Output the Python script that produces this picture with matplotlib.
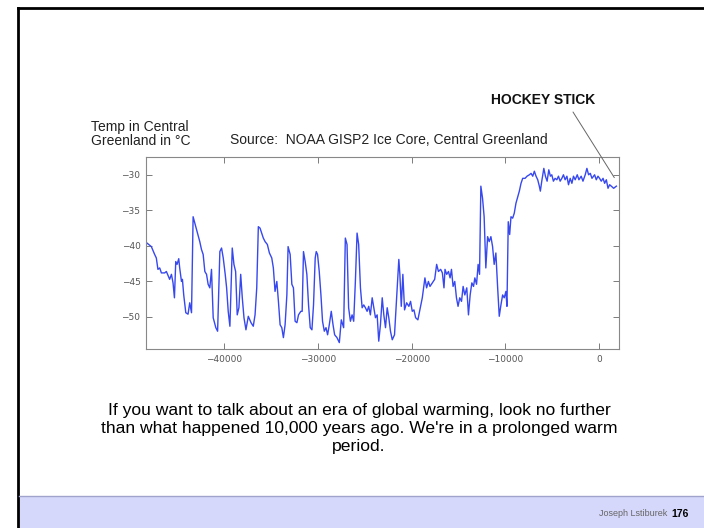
import matplotlib
matplotlib.use('Agg')
import matplotlib.pyplot as plt
from matplotlib.lines import Line2D
from matplotlib.patches import Rectangle

# GISP2 temperature record, central Greenland (year, deg C)
years = [
    -48200, -47730, -47380, -47200, -47030, -46840, -46660, -46310, -46130, -45780,
    -45590, -45420, -45270, -45130, -44990, -44810, -44710, -44520, -44420, -44280,
    -44060, -43820, -43640, -43450, -43280, -43100, -42860, -42570, -42390, -42210,
    -42030, -41850, -41680, -41500, -41320, -41140, -40860, -40670, -40430, -40250,
    -40070, -39860, -39710, -39540, -39360, -39110, -38930, -38750, -38580, -38400,
    -38210, -38040, -37860, -37650, -37400, -37110, -36870, -36680, -36500, -36330,
    -36150, -35800, -35610, -35370, -35150, -34900, -34730, -34550, -34360, -34190,
    -34010, -33830, -33660, -33480, -33290, -33160, -32940, -32760, -32590, -32410,
    -32220, -32050, -31800, -31660, -31520, -31340, -31160, -30980, -30800, -30620,
    -30450, -30270, -30160, -30020, -29840, -29660, -29490, -29300, -29120, -28950,
    -28770, -28560, -28370, -28200, -27950, -27700, -27490, -27240, -27060, -26880,
    -26710, -26520, -26340, -26170, -25990, -25810, -25640, -25450, -25270, -25100,
    -24920, -24740, -24570, -24390, -24200, -24030, -23850, -23670, -23500, -23320,
    -23130, -22960, -22780, -22600, -22430, -22250, -22060, -21820, -21600, -21360,
    -21250, -21100, -20930, -20750, -20530, -20290, -20110, -19930, -19750, -19570,
    -19330, -19040, -18860, -18580, -18400, -18210, -18040, -17790, -17540, -17330,
    -17140, -16900, -16720, -16550, -16440, -16260, -16070, -15900, -15750, -15580,
    -15400, -15220, -15050, -14870, -14680, -14510, -14330, -14120, -13940, -13760,
    -13580, -13400, -13260, -13080, -12910, -12760, -12620, -12440, -12270, -12090,
    -11900, -11730, -11550, -11370, -11200, -11020, -10830, -10660, -10480, -10300,
    -10130, -9950, -9840, -9700, -9550, -9410, -9230, -9060, -8880, -8520,
    -8340, -8160, -7910, -7700, -7450, -7270, -7090, -6920, -6740, -6560,
    -6390, -6280, -6130, -5910, -5740, -5560, -5380, -5210, -5060, -4890,
    -4710, -4520, -4350, -4170, -3990, -3820, -3640, -3450, -3280, -3100,
    -2920, -2750, -2570, -2350, -2170, -1930, -1740, -1500, -1320, -1140,
    -960, -780, -500, -320, -140, 30, 210, 400, 570, 750,
    930, 1100, 1280, 1530, 1820,
]
temps = [
    -39.6, -40.1, -41.2, -41.7, -43.3, -43.1, -43.8, -43.8, -43.6, -44.7,
    -44.0, -45.2, -47.3, -42.2, -42.6, -41.8, -43.1, -45.0, -44.7, -46.9,
    -49.4, -49.6, -48.0, -49.4, -35.9, -36.8, -38.0, -39.4, -40.5, -41.2,
    -43.6, -44.0, -45.4, -45.9, -43.3, -50.1, -51.5, -52.0, -40.8, -40.3,
    -41.7, -44.0, -45.9, -49.2, -51.3, -40.3, -42.6, -43.6, -49.7, -48.7,
    -44.0, -47.3, -50.1, -51.8, -49.9, -50.8, -51.3, -49.7, -45.9, -37.3,
    -37.5, -38.9, -39.4, -39.8, -41.0, -41.7, -43.1, -46.4, -45.0, -47.8,
    -51.1, -51.5, -52.9, -51.1, -46.9, -40.1, -41.2, -45.4, -45.9, -50.6,
    -50.8, -49.7, -49.2, -49.2, -40.8, -42.2, -44.0, -48.3, -51.5, -51.8,
    -48.3, -41.7, -40.8, -41.2, -43.6, -46.9, -50.6, -52.0, -51.5, -52.5,
    -51.1, -49.2, -51.1, -52.5, -52.9, -53.6, -50.4, -51.5, -38.9, -39.8,
    -48.7, -50.6, -49.7, -50.6, -45.0, -38.2, -39.8, -45.9, -48.7, -48.3,
    -48.7, -49.2, -48.5, -49.7, -47.3, -48.7, -50.1, -49.7, -53.4, -51.1,
    -47.3, -49.7, -51.5, -48.7, -50.1, -52.0, -53.2, -52.5, -47.3, -41.9,
    -44.0, -48.5, -44.0, -49.0, -48.0, -48.5, -47.8, -49.2, -49.0, -50.1,
    -50.4, -48.5, -47.3, -44.5, -45.9, -45.0, -45.7, -45.2, -44.7, -42.6,
    -43.6, -43.3, -43.8, -45.9, -43.3, -44.0, -43.6, -44.5, -43.3, -45.7,
    -45.0, -47.3, -48.5, -47.3, -47.8, -45.7, -46.9, -45.9, -49.7, -46.9,
    -45.2, -45.7, -44.5, -45.4, -42.6, -44.0, -31.6, -33.3, -35.9, -43.1,
    -38.7, -39.4, -38.7, -40.1, -42.6, -41.0, -45.9, -49.9, -48.3, -46.9,
    -47.3, -46.4, -48.5, -36.6, -38.4, -35.9, -36.1, -35.4, -34.0, -32.3,
    -31.2, -30.5, -30.5, -30.2, -30.0, -29.8, -30.2, -29.5, -30.2, -30.7,
    -31.6, -32.3, -30.9, -29.1, -30.2, -30.9, -29.3, -30.2, -30.0, -30.9,
    -30.5, -30.7, -30.2, -30.9, -30.5, -30.0, -30.7, -30.2, -31.4, -30.5,
    -31.2, -30.2, -30.7, -30.0, -30.7, -30.2, -30.9, -30.0, -29.1, -30.0,
    -29.8, -30.5, -30.0, -30.7, -30.2, -30.5, -30.9, -30.5, -31.2, -30.7,
    -31.9, -31.4, -31.6, -31.9, -31.6,
]
xticks = [-40000, -30000, -20000, -10000, 0]
yticks = [-50, -45, -40, -35, -30]

caption = ("If you want to talk about an era of global warming, look no further\n"
           "than what happened 10,000 years ago. We're in a prolonged warm\n"
           "period.")

W, H = 704, 528
fig = plt.figure(figsize=(W / 100, H / 100), dpi=100, facecolor='white')
font = ['Liberation Sans', 'DejaVu Sans']

def px(x, y):
    # pixel position (from top-left) to figure fraction
    return x / W, 1 - y / H

# slide frame and footer band
fig.add_artist(Line2D([17.5 / W, 1], [1 - 8 / H, 1 - 8 / H], color='black', lw=2.0))
fig.add_artist(Line2D([17.5 / W, 17.5 / W], [0, 1 - 8 / H], color='black', lw=2.0))
fig.add_artist(Rectangle((18.5 / W, 0), 1, 32 / H, facecolor='#d6d8fb',
                         edgecolor='none', transform=fig.transFigure))
fig.add_artist(Line2D([18.5 / W, 1], [32 / H, 32 / H], color='#a0a4cc', lw=1.0))

# the plot itself
ax = fig.add_axes([146 / W, 1 - 349 / H, (619 - 146) / W, (349 - 157) / H])
ax.plot(years, temps, color='#3748ee', lw=1.0)
ax.set_xlim(-48300, 2100)
ax.set_ylim(-54.5, -27.5)
ax.set_xticks(xticks)
ax.set_yticks(yticks)
ax.tick_params(direction='in', top=True, right=True, length=4, width=0.6,
               color='#666666', labelsize=6.5, labelcolor='#555555', pad=4)
for s in ax.spines.values():
    s.set_color('#888888')
    s.set_linewidth(0.8)

# labels around the plot
x, y = px(91, 127)
fig.text(x, y, 'Temp in Central', family=font, fontsize=10, color='#222222', va='center')
x, y = px(91, 141)
fig.text(x, y, 'Greenland in \u00b0C', family=font, fontsize=10, color='#222222', va='center')
x, y = px(230, 140)
fig.text(x, y, 'Source:  NOAA GISP2 Ice Core, Central Greenland', family=font,
         fontsize=10, color='#222222', va='center')
x, y = px(543, 100)
fig.text(x, y, 'HOCKEY STICK', family=font, fontsize=10, fontweight='bold',
         color='#111111', ha='center', va='center')
ax.annotate('', xy=(1600, -30.4), xycoords='data',
            xytext=(573, H - 112), textcoords='figure pixels',
            arrowprops=dict(arrowstyle='-', color='#666666', lw=0.7,
                            shrinkA=0, shrinkB=0), annotation_clip=False)

# caption
x, y = px(359, 428.5)
fig.text(x, y, caption, family=font, fontsize=12.6, color='black',
         ha='center', va='center', linespacing=1.22, multialignment='center')

# footer
x, y = px(689, 514)
fig.text(x, y, '176', family=font, fontsize=7.5, fontweight='bold', color='black',
         ha='right', va='center')
x, y = px(667, 514)
fig.text(x, y, 'Joseph Lstiburek', family=font, fontsize=6.5, color='#666666',
         ha='right', va='center')

fig.savefig('out.png', dpi=100, facecolor='white')
